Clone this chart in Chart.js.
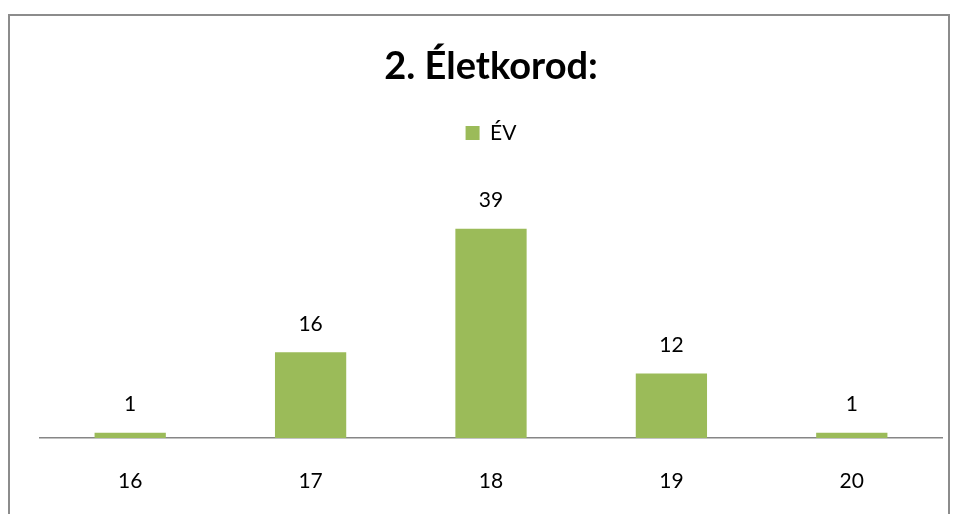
<!DOCTYPE html>
<html>
<head>
<meta charset="utf-8">
<script src="https://cdn.jsdelivr.net/npm/chart.js@4.4.1/dist/chart.umd.min.js"></script>
<style>
  html, body { margin: 0; padding: 0; background: #fff; overflow: hidden; }
  #wrap { position: relative; width: 956px; height: 514px; }
  #frame { position: absolute; left: 8px; top: 14px; width: 938px; height: 540px; border: 2px solid #8c8c8c; }
  canvas { position: absolute; left: 0; top: 0; }
</style>
</head>
<body>
<div id="wrap">
  <div id="frame"></div>
  <canvas id="myChart" width="956" height="514"></canvas>
</div>
<script>
// adatok
var korok = ['16', '17', '18', '19', '20'];
var darab = [1, 16, 39, 12, 1];
var sorozatNev = 'ÉV';
var cim = '2. Életkorod:';

var betu = 'Lato, "Open Sans", sans-serif';

// értékek kiírása az oszlopok fölé
var ertekCimkek = {
  id: 'ertekCimkek',
  afterDatasetsDraw: function (chart) {
    var ctx = chart.ctx;
    var meta = chart.getDatasetMeta(0);
    ctx.save();
    ctx.font = '21px ' + betu;
    ctx.fillStyle = '#000';
    ctx.textAlign = 'center';
    ctx.textBaseline = 'middle';
    meta.data.forEach(function (bar, i) {
      ctx.fillText(chart.data.datasets[0].data[i], bar.x, bar.y - 28);
    });
    ctx.restore();
  }
};

var ctx = document.getElementById('myChart');

var myChart = new Chart(ctx, {
  type: 'bar',
  data: {
    labels: korok,
    datasets: [{
      label: sorozatNev,
      data: darab,
      backgroundColor: '#9bbb59',
      borderWidth: 0,
      categoryPercentage: 1,
      barPercentage: 0.395
    }]
  },
  options: {
    responsive: false,
    animation: false,
    layout: {
      padding: { left: 40, right: 14, top: 0, bottom: 0 }
    },
    scales: {
      x: {
        grid: { display: false, drawTicks: false },
        border: { display: true, color: '#868686', width: 1.5 },
        ticks: {
          color: '#000',
          font: { family: betu, size: 21 },
          padding: 31
        },
        afterFit: function (scale) { scale.height = 76; }
      },
      y: {
        display: false,
        min: 0,
        max: 53
      }
    },
    plugins: {
      title: {
        display: true,
        text: cim,
        color: '#000',
        font: { family: betu, size: 38, weight: 'bold' },
        padding: { top: 44, bottom: 13 }
      },
      legend: {
        display: true,
        position: 'top',
        labels: {
          color: '#000',
          font: { family: betu, size: 21 },
          boxWidth: 14,
          boxHeight: 14,
          padding: 20
        }
      },
      tooltip: { enabled: false }
    }
  },
  plugins: [ertekCimkek]
});
</script>
</body>
</html>
